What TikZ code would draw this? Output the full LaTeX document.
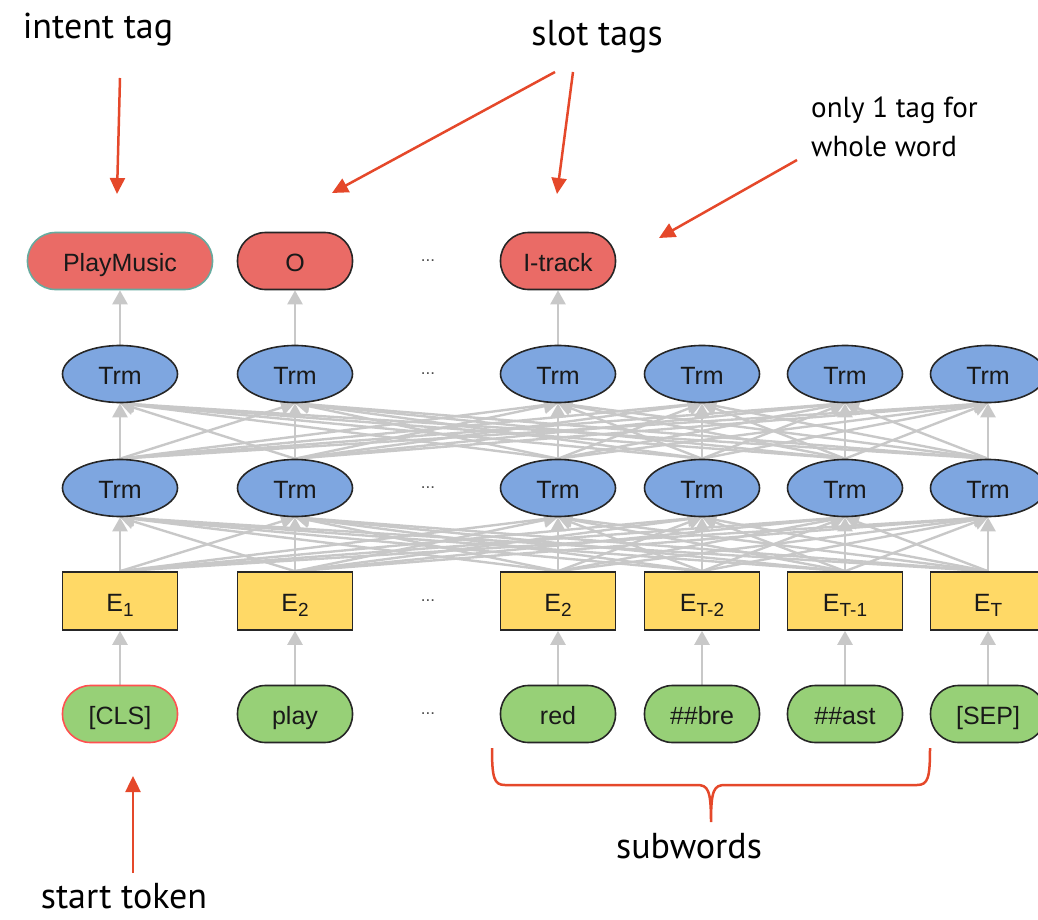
\documentclass[tikz,border=0pt]{standalone}
\usepackage{fontspec}
\setmainfont{Liberation Sans}
\newfontfamily\annotfont{PT Sans}
\usetikzlibrary{arrows.meta,backgrounds,shapes.geometric}
\definecolor{tagred}{HTML}{EA6B66}
\definecolor{tealb}{HTML}{67AB9F}
\definecolor{trmblue}{HTML}{7EA6E0}
\definecolor{eyellow}{HTML}{FFD966}
\definecolor{tokgreen}{HTML}{97D077}
\definecolor{clsred}{HTML}{FF5050}
\definecolor{annotred}{HTML}{E5482A}
\definecolor{conngray}{HTML}{C8C8C8}
\newcommand\esub[1]{\raisebox{-0.45ex}{\fontsize{19}{19}\selectfont #1}}
\begin{document}
\begin{tikzpicture}[x=1pt,y=-1pt,
  lbl/.style={font=\fontsize{25}{27}\selectfont, text=black!90, text height=22pt, text depth=2pt},
  pill/.style={lbl, draw=black!85, line width=1.6pt, rounded corners=28pt, minimum width=115pt, minimum height=57pt, inner sep=0pt},
  tagnode/.style={pill, fill=tagred},
  toknode/.style={pill, fill=tokgreen},
  trm/.style={lbl, ellipse, draw=black!85, line width=1.6pt, fill=trmblue, minimum width=115pt, minimum height=57pt, inner sep=0pt},
  emb/.style={lbl, rectangle, draw=black!85, line width=1.6pt, fill=eyellow, minimum width=115pt, minimum height=58pt, inner sep=0pt},
  conn/.style={draw=conngray, line width=2.4pt, -{Triangle[width=15pt,length=14pt]}},
  dots/.style={font=\fontsize{17}{17}\selectfont, text=black!70},
  annot/.style={font=\annotfont\fontsize{36}{40}\selectfont, inner sep=0pt},
  annotarrow/.style={draw=annotred, line width=2.5pt, -{Triangle[width=15pt,length=16pt]}},
  bracestyle/.style={draw=annotred, line width=2.5pt}
]
\useasboundingbox (0,0) rectangle (1038,920);
\begin{scope}
\clip (0,0) rectangle (1038,920);
% Tag row
\node[tagnode, draw=tealb, minimum width=185pt] (tag-1) at (120,261) {PlayMusic};
\node[tagnode] (tag-2) at (295,261) {O};
\node[tagnode] (tag-3) at (558,261) {I-track};
% Transformer rows
\foreach \i/\x in {1/120,2/295,3/558,4/702,5/845,6/988} {
  \node[trm] (t2-\i) at (\x,374) {Trm};
  \node[trm] (t1-\i) at (\x,488) {Trm};
}
% Embeddings
\node[emb] (e-1) at (120,601) {E\esub{1}};
\node[emb] (e-2) at (295,601) {E\esub{2}};
\node[emb] (e-3) at (558,601) {E\esub{2}};
\node[emb] (e-4) at (702,601) {E\esub{T-2}};
\node[emb] (e-5) at (845,601) {E\esub{T-1}};
\node[emb] (e-6) at (988,601) {E\esub{T}};
% Tokens
\node[toknode, draw=clsred] (k-1) at (120,714) {[CLS]};
\node[toknode] (k-2) at (295,714) {play};
\node[toknode] (k-3) at (558,714) {red};
\node[toknode] (k-4) at (702,714) {\#\#bre};
\node[toknode] (k-5) at (845,714) {\#\#ast};
\node[toknode] (k-6) at (988,714) {[SEP]};
% Ellipsis dots
\foreach \y/\n in {261/a,374/b,488/c,601/d,714/e}
  \node[dots] (dots-\n) at (428,\y) {...};
\end{scope}
% Connectors
\begin{scope}[on background layer]
\foreach \i in {1,...,6} {
  \foreach \j in {1,...,6} {
    \draw[conn] (e-\i.north) -- (t1-\j.south);
    \draw[conn] (t1-\i.north) -- (t2-\j.south);
  }
  \draw[conn] (k-\i.north) -- (e-\i.south);
}
\draw[conn] (t2-1.north) -- (tag-1.south);
\draw[conn] (t2-2.north) -- (tag-2.south);
\draw[conn] (t2-3.north) -- (tag-3.south);
\end{scope}
% Annotations
\node[annot] (intent) at (98,30) {intent tag};
\node[annot] (slot) at (597,37) {slot tags};
\node[annot, anchor=west, align=left, font=\annotfont\fontsize{29}{39}\selectfont] (only) at (811,127) {only 1 tag for\\whole word};
\node[annot] (start) at (124,896) {start token};
\node[annot] (sub) at (689,846) {subwords};
\coordinate (intentS) at (120,78);
\coordinate (intentE) at (117,194);
\coordinate (slotS1) at (555,72);
\coordinate (slotE1) at (332,193);
\coordinate (slotS2) at (573,72);
\coordinate (slotE2) at (557,194);
\coordinate (onlyS) at (797,160);
\coordinate (onlyE) at (659,238);
\coordinate (startS) at (133,873);
\coordinate (startE) at (133,776);
\draw[annotarrow] (intentS) -- (intentE);
\draw[annotarrow] (slotS1) -- (slotE1);
\draw[annotarrow] (slotS2) -- (slotE2);
\draw[annotarrow] (onlyS) -- (onlyE);
\draw[annotarrow] (startS) -- (startE);
% Brace
\draw[bracestyle] (492,748) .. controls (492,778) and (494,785) .. (505,785) -- (697,785)
  .. controls (708,785) and (711,790) .. (711,822)
  .. controls (711,790) and (714,785) .. (725,785) -- (917,785)
  .. controls (928,785) and (930,778) .. (930,748);
\end{tikzpicture}
\end{document}
